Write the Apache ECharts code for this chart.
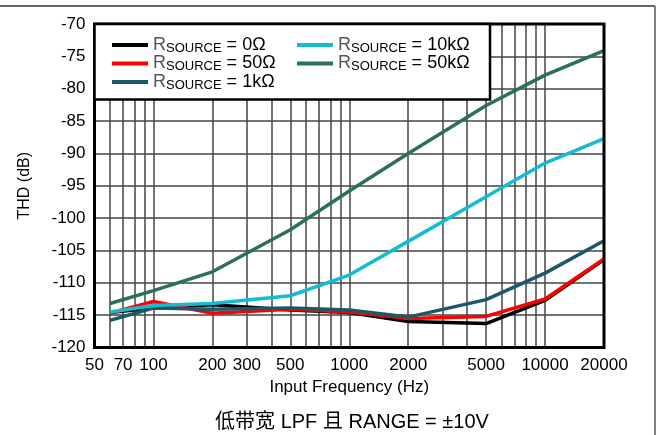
<!DOCTYPE html>
<html><head><meta charset="utf-8">
<script src="https://cdn.jsdelivr.net/npm/echarts@6/dist/echarts.min.js"></script>
<style>html,body{margin:0;padding:0;background:#fff}#c{width:659px;height:435px}</style>
</head><body><div id="c"></div>
<script>
const freqs = [60, 100, 200, 500, 1000, 2000, 5000, 10000, 20000];
const thd0 = [-114.6, -113.9, -113.4, -114.2, -114.6, -116.0, -116.3, -112.7, -106.4];
const thd50 = [-114.7, -112.9, -114.7, -114.1, -114.5, -115.5, -115.2, -112.5, -106.3];
const thd1k = [-115.8, -113.9, -114.1, -113.9, -114.2, -115.3, -112.6, -108.5, -103.5];
const thd10k = [-114.5, -113.5, -113.2, -112.0, -108.8, -103.6, -96.7, -91.5, -87.7];
const thd50k = [-113.2, -111.2, -108.3, -101.8, -95.8, -90.0, -82.6, -77.9, -74.1];
const seriesNames = ['0Ω', '50Ω', '1kΩ', '10kΩ', '50kΩ'];
const seriesColors = ['#000000', '#ff0000', '#1b5868', '#12bcd2', '#2b7252'];
const xTickLabels = [50, 70, 100, 200, 300, 500, 1000, 2000, 5000, 10000, 20000];
const xGridValues = [60, 70, 80, 90, 100, 200, 300, 400, 500, 600, 700, 800, 900, 1000, 2000, 3000, 4000, 5000, 6000, 7000, 8000, 9000, 10000];
const caption = '低带宽 LPF 且 RANGE = ±10V';

const allData = [thd0, thd50, thd1k, thd10k, thd50k];
const font = 'Liberation Sans, Arial, sans-serif';
const rich = {
  r: { fontSize: 18, fontFamily: font, color: '#000' },
  s: { fontSize: 13, fontFamily: font, color: '#000', padding: [6, 0, 0, 0] }
};
const fmt = name => 'R{s|SOURCE}{r| = ' + name + '}';

const series = allData.map((d, i) => ({
  name: seriesNames[i],
  type: 'line',
  data: freqs.map((f, j) => [f, d[j]]),
  showSymbol: false,
  symbol: 'none',
  z: 5,
  lineStyle: { color: seriesColors[i], width: 3.5 },
  itemStyle: { color: seriesColors[i] }
}));
series.unshift({
  name: '__grid',
  type: 'line',
  data: [],
  z: 1,
  silent: true,
  markLine: {
    silent: true,
    symbol: 'none',
    label: { show: false },
    lineStyle: { color: '#444', width: 1.5, type: 'solid' },
    data: xGridValues.map(v => ({ xAxis: v }))
  }
});

const chart = echarts.init(document.getElementById('c'), null, { renderer: 'canvas' });
chart.setOption({
  animation: false,
  backgroundColor: '#fff',
  title: {
    text: caption, left: 347, top: 407, textAlign: 'center',
    textStyle: { fontSize: 20, fontWeight: 'normal', color: '#000', fontFamily: 'Liberation Sans, "Noto Sans CJK SC", sans-serif' }
  },
  grid: { left: 94.5, right: 55, top: 24, bottom: 87.5, show: true, borderColor: '#000', borderWidth: 3, backgroundColor: 'transparent', z: 8 },
  xAxis: {
    type: 'log', logBase: 10, min: 50, max: 20000,
    name: 'Input Frequency (Hz)', nameLocation: 'middle', nameGap: 30,
    nameTextStyle: { fontSize: 17, color: '#000', fontFamily: font },
    axisLine: { show: false },
    axisTick: { show: false },
    splitLine: { show: false },
    axisLabel: { customValues: xTickLabels, formatter: v => String(Math.round(v)), fontSize: 17, color: '#000', fontFamily: font, margin: 9 }
  },
  yAxis: {
    type: 'value', min: -120, max: -70, interval: 5,
    name: 'THD (dB)', nameLocation: 'middle', nameGap: 62, nameRotate: 90,
    nameTextStyle: { fontSize: 16, color: '#000', fontFamily: font },
    axisLine: { show: false },
    axisTick: { show: false },
    splitLine: { show: true, lineStyle: { color: '#444', width: 1.5 } },
    axisLabel: { fontSize: 17, color: '#000', fontFamily: font, margin: 9 }
  },
  legend: [
    {
      data: seriesNames.slice(0, 3), orient: 'vertical', left: 107, top: 31, z: 20,
      itemWidth: 36, itemHeight: 4, icon: 'rect', itemGap: 0,
      formatter: fmt, textStyle: { rich: rich, fontSize: 18, fontFamily: font }
    },
    {
      data: seriesNames.slice(3), orient: 'vertical', left: 292, top: 31, z: 20,
      itemWidth: 36, itemHeight: 4, icon: 'rect', itemGap: 0,
      formatter: fmt, textStyle: { rich: rich, fontSize: 18, fontFamily: font }
    }
  ],
  graphic: [
    { type: 'rect', z: 15, shape: { x: 94.5, y: 24, width: 395.5, height: 75.5 }, style: { fill: '#fff', stroke: '#000', lineWidth: 2.5 } },
    { type: 'line', z: 15, shape: { x1: 0, y1: 6, x2: 655, y2: 6 }, style: { stroke: '#333', lineWidth: 1.5 } },
    { type: 'line', z: 15, shape: { x1: 655, y1: 6, x2: 655, y2: 435 }, style: { stroke: '#555', lineWidth: 1.5 } }
  ],
  series: series
});
</script></body></html>
